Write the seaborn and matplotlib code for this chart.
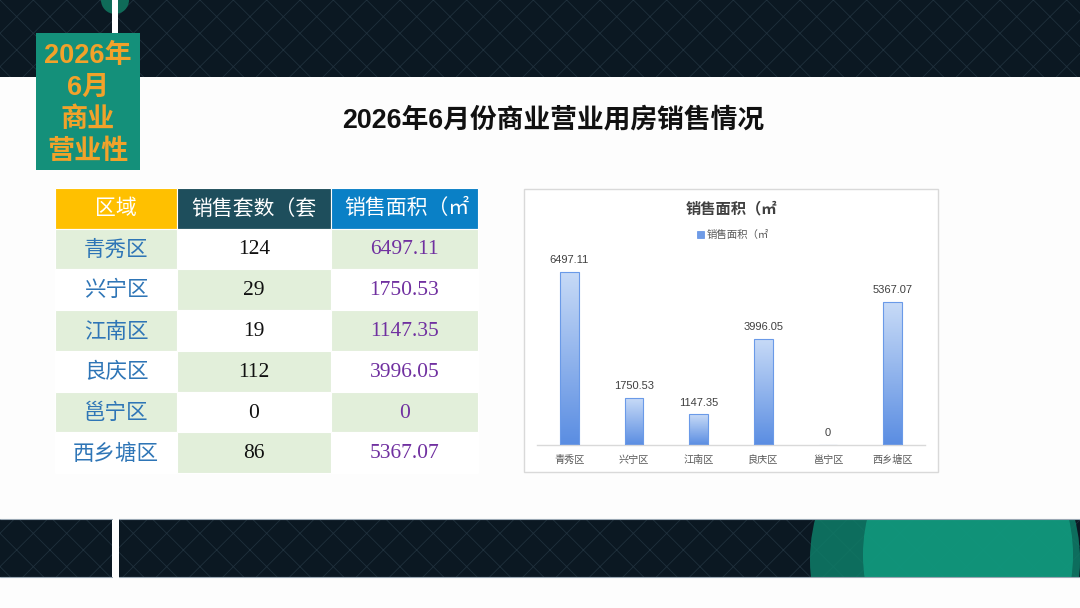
import numpy as np
import pandas as pd
import matplotlib
matplotlib.use("Agg")
import matplotlib.pyplot as plt
import seaborn as sns
from matplotlib.patches import Rectangle, Ellipse, Circle, Patch
from matplotlib.colors import LinearSegmentedColormap

# ---------------- data ----------------
districts = ["青秀区", "兴宁区", "江南区", "良庆区", "邕宁区", "西乡塘区"]
units_sold = [124, 29, 19, 112, 0, 86]
area_sold = [6497.11, 1750.53, 1147.35, 3996.05, 0, 5367.07]
area_text = ["6497.11", "1750.53", "1147.35", "3996.05", "0", "5367.07"]
table_header = ["区域", "销售套数（套", "销售面积（㎡"]
main_title = "2026年6月份商业营业用房销售情况"
badge_text = "2026年\n6月\n商业\n营业性"
chart_title = "销售面积（㎡"
legend_label = "销售面积（㎡"

# ---------------- style ----------------
sns.set_theme(style="white")
plt.rcParams["font.family"] = ["Liberation Sans", "Noto Sans CJK SC", "DejaVu Sans"]
plt.rcParams["hatch.linewidth"] = 0.6

W, H = 1080, 608
fig = plt.figure(figsize=(W / 100, H / 100), dpi=100)
fig.patch.set_facecolor("#fdfdfd")

bg = fig.add_axes([0, 0, 1, 1], zorder=0)
bg.set_xlim(0, W)
bg.set_ylim(H, 0)
bg.axis("off")

CJK = ["Noto Sans CJK SC", "DejaVu Sans"]
SANS = ["Liberation Sans", "Noto Sans CJK SC", "DejaVu Sans"]
SERIF = ["Liberation Serif", "Noto Sans CJK SC", "DejaVu Serif"]

# dark patterned bands
def band(x, y, w, h):
    r = Rectangle((x, y), w, h, facecolor="#0b1822", edgecolor="#1f303c",
                  hatch="x", lw=0, zorder=1)
    bg.add_patch(r)
    return r

top_band = band(0, 0, W, 77)
bl = band(0, 519, 112, 58)
br = band(119, 519, W - 119, 58)
for yy in (519, 577):
    bg.plot([0, 112], [yy, yy], color="#9aa8b4", lw=0.8, zorder=2)
    bg.plot([119, W], [yy, yy], color="#9aa8b4", lw=0.8, zorder=2)

# green circles at bottom right
for (cx, cy, ew, eh, col, a) in [(945, 560, 270, 300, "#0e7d68", 0.85),
                                 (968, 555, 210, 260, "#11977c", 0.9)]:
    e = Ellipse((cx, cy), ew, eh, facecolor=col, alpha=a, lw=0, zorder=1.5)
    bg.add_patch(e)
    e.set_clip_path(br)
c = Circle((115, 0), 14, facecolor="#0f6b58", lw=0, zorder=1.5)
bg.add_patch(c)
c.set_clip_path(top_band)
bg.add_patch(Rectangle((112, 0), 6, 34, facecolor="white", lw=0, zorder=2))

# badge
bg.add_patch(Rectangle((36, 33), 104, 137, facecolor="#14907a", lw=0, zorder=3))
bg.text(88, 104, badge_text, ha="center", va="center", fontsize=19.5,
        fontweight="bold", color="#f2a22a", linespacing=1.3, family=SANS, zorder=4)

# main title
bg.text(553, 121, main_title, ha="center", va="center", fontsize=19.3,
        fontweight="bold", color="#111111", family=SANS, zorder=3)

# ---------------- table ----------------
col_x = [55, 177, 331, 478]
row_y = [188, 229, 269, 310, 351, 392, 432, 473]
head_cols = ["#ffc000", "#1e4e5c", "#0a80c6"]
green, white = "#e2efda", "#ffffff"
for j in range(3):
    bg.add_patch(Rectangle((col_x[j], row_y[0]), col_x[j + 1] - col_x[j],
                           row_y[1] - row_y[0], facecolor=head_cols[j],
                           edgecolor="white", lw=0.8, zorder=3))
    bg.text((col_x[j] + col_x[j + 1]) / 2 + (2 if j == 2 else 0),
            (row_y[0] + row_y[1]) / 2, table_header[j], ha="center", va="center",
            fontsize=15, color="white", family=CJK, zorder=4)

for i, name in enumerate(districts):
    cells = [name, str(units_sold[i]), area_text[i]]
    colors = ["#2e75b6", "#111111", "#7030a0"]
    for j in range(3):
        fc = green if (i + j) % 2 == 0 else white
        bg.add_patch(Rectangle((col_x[j], row_y[i + 1]), col_x[j + 1] - col_x[j],
                               row_y[i + 2] - row_y[i + 1], facecolor=fc,
                               edgecolor="white", lw=0.8, zorder=3))
        bg.text((col_x[j] + col_x[j + 1]) / 2, (row_y[i + 1] + row_y[i + 2]) / 2 + 1,
                cells[j], ha="center", va="center", fontsize=15.5,
                color=colors[j], family=CJK if j == 0 else SERIF, zorder=4)

# ---------------- chart ----------------
bg.add_patch(Rectangle((524, 189), 414, 283, facecolor="white",
                       edgecolor="#d9d9d9", lw=1, zorder=3))
bg.text(731, 208, chart_title, ha="center", va="center", fontsize=11,
        fontweight="bold", color="#404040", family=CJK, zorder=4)

ymax = 7000
ax = fig.add_axes([537 / W, 1 - 445 / H, 388 / W, (445 - 258.6) / H], zorder=5)
ax.set_facecolor("none")
df = pd.DataFrame({"区域": districts, "面积": area_sold})
sns.barplot(data=df, x="区域", y="面积", ax=ax, width=0.29, color="#7fa6ea",
            edgecolor="#6a9ae8", linewidth=0.8, errorbar=None)

cmap = LinearSegmentedColormap.from_list("g", ["#c8dbf7", "#5a8de2"])
grad = np.linspace(0, 1, 256).reshape(-1, 1)
bars = ax.containers[0]
for bar in bars:
    x0, y0, w, h = bar.get_x(), bar.get_y(), bar.get_width(), bar.get_height()
    if h <= 0:
        continue
    im = ax.imshow(grad, cmap=cmap, extent=[x0, x0 + w, y0, y0 + h],
                   aspect="auto", origin="upper", zorder=2)
    im.set_clip_path(bar)
    bar.set_facecolor("none")
    bar.set_zorder(3)

ax.bar_label(bars, labels=area_text, padding=5, fontsize=8, color="#404040",
             family=SANS)
ax.set_xlim(-0.5, len(districts) - 0.5)
ax.set_ylim(0, ymax)
ax.set_yticks([])
ax.set_xlabel("")
ax.set_ylabel("")
for s in ("left", "top", "right"):
    ax.spines[s].set_visible(False)
ax.spines["bottom"].set_color("#d9d9d9")
ax.spines["bottom"].set_linewidth(1)
ax.tick_params(axis="x", length=0, pad=7, labelsize=7.3, labelcolor="#595959")
for t in ax.get_xticklabels():
    t.set_fontfamily(CJK)

handle = Patch(facecolor="#6f9be6", edgecolor="#5b8ee6", lw=0.5)
ax.legend(handles=[handle], labels=[legend_label], loc="center",
          bbox_to_anchor=(733 / W, 1 - 235 / H), bbox_transform=fig.transFigure,
          frameon=False, handlelength=0.7, handleheight=0.7,
          handletextpad=0.3, labelcolor="#595959", prop={"family": CJK, "size": 7.5})

fig.savefig("out.png", dpi=100, facecolor=fig.get_facecolor())
